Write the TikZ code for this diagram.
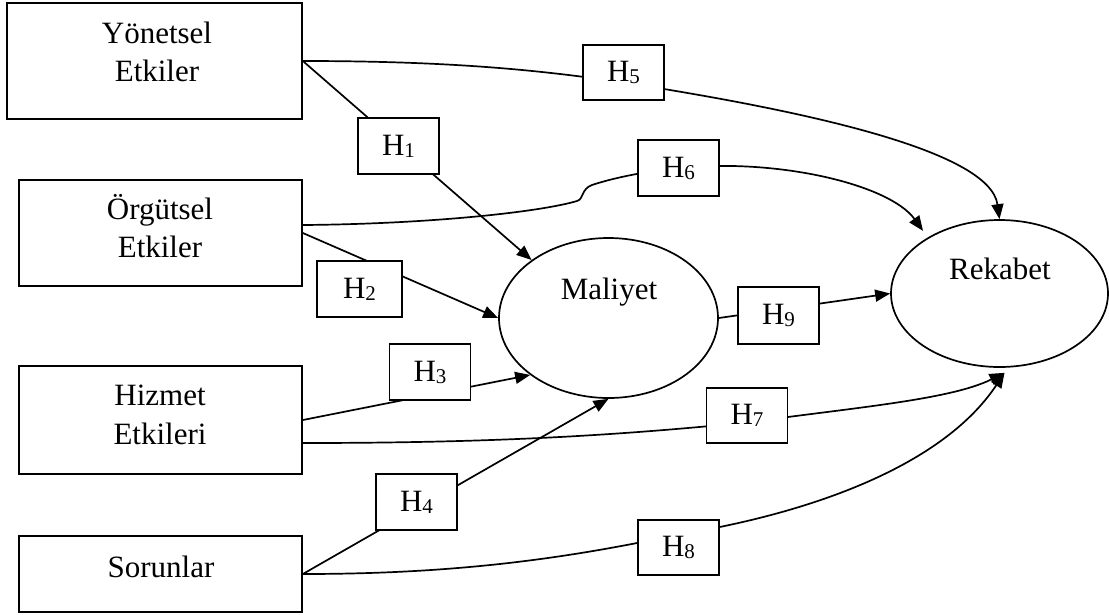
\documentclass[tikz,border=0pt]{standalone}
\usepackage{fontspec}
\setmainfont{Liberation Serif}
\usetikzlibrary{arrows.meta,shapes.geometric,backgrounds}
\newcommand{\Hsub}[1]{H\raisebox{-2pt}{\fontsize{21}{21}\selectfont #1}}
\begin{document}
\begin{tikzpicture}[x=1pt,y=-1pt,line width=1.7pt,
  font=\fontsize{31}{38.5}\selectfont,
  mainbox/.style={draw, rectangle, inner sep=0pt},
  hbox/.style={draw, fill=white, rectangle, minimum width=81pt, minimum height=56pt, inner sep=0pt},
  construct/.style={draw, ellipse, inner sep=0pt},
  txt/.style={inner sep=0pt, align=center},
  conn/.style={line width=1.7pt, -{Triangle[length=15pt,width=12pt]}}
]
\useasboundingbox (0,0) rectangle (1109,614);

% left boxes
\node[mainbox, minimum width=295pt, minimum height=116pt] (yon) at (154.5,61) {};
\node[txt] (yontxt) at (157,52) {Yönetsel\\Etkiler};
\node[mainbox, minimum width=283pt, minimum height=106pt] (org) at (160.5,233) {};
\node[txt] (orgtxt) at (160,226) {Örgütsel\\Etkiler};
\node[mainbox, minimum width=283pt, minimum height=108pt] (hiz) at (160.5,420) {};
\node[txt] (hiztxt) at (160,415) {Hizmet\\Etkileri};
\node[mainbox, minimum width=283pt, minimum height=76pt] (sor) at (160.5,574) {};
\node[txt] (sortxt) at (161,567) {Sorunlar};

% constructs
\node[construct, minimum width=219pt, minimum height=160pt] (mal) at (608.5,318) {};
\node[txt] (maltxt) at (609,292) {Maliyet};
\node[construct, minimum width=217pt, minimum height=147pt] (rek) at (999.5,293.5) {};
\node[txt] (rektxt) at (1000,269) {Rekabet};
\coordinate (rektip) at ([xshift=5pt,yshift=-5pt]rek.south);

% hypothesis labels
\node[hbox] (h1) at (398.5,146) {\Hsub{1}};
\node[hbox, minimum width=85pt] (h2) at (359.5,289) {\Hsub{2}};
\node[hbox] (h3) at (430,372) {\Hsub{3}};
\node[hbox] (h4) at (416.5,502) {\Hsub{4}};
\node[hbox, minimum height=55pt] (h5) at (623.5,72.5) {\Hsub{5}};
\node[hbox] (h6) at (678.5,168) {\Hsub{6}};
\node[hbox, minimum height=55pt] (h7) at (747,415.5) {\Hsub{7}};
\node[hbox, minimum height=55pt] (h8) at (678.5,547.5) {\Hsub{8}};
\node[hbox, minimum height=57pt] (h9) at (778.5,315.5) {\Hsub{9}};

\begin{scope}[on background layer]
\draw[conn] (yon.east) -- (mal.143);
\draw[conn] (org.east) -- (mal.180);
\draw[conn] (hiz.east) -- (mal.216);
\draw[conn] (sor.east) -- (mal.270);
\draw[conn] (mal.0) -- (rek.180);
\draw[conn] (yon.east) .. controls (450,61) and (540,70) .. ([yshift=-10pt]h5.center)
  .. controls (800,110) and (990,150) .. (rek.90);
\draw[conn, shorten >=8pt] ([yshift=8pt]org.east) .. controls (430,224) and (540,212) .. (577,201)
  .. controls (584,199) and (581,189) .. (592,185)
  .. controls (610,179) and (640,172) .. (h6.center)
  .. controls (780,158) and (890,185) .. (rek.142);
\draw[conn] ([yshift=-23pt]hiz.east) .. controls (500,443) and (620,435) .. ([yshift=-7pt]h7.center)
  .. controls (850,408) and (950,400) .. (rektip);
\draw[conn] (sor.east) .. controls (450,574) and (560,560) .. ([yshift=13pt]h8.center)
  .. controls (800,515) and (940,470) .. (rektip);
\end{scope}
\end{tikzpicture}
\end{document}
